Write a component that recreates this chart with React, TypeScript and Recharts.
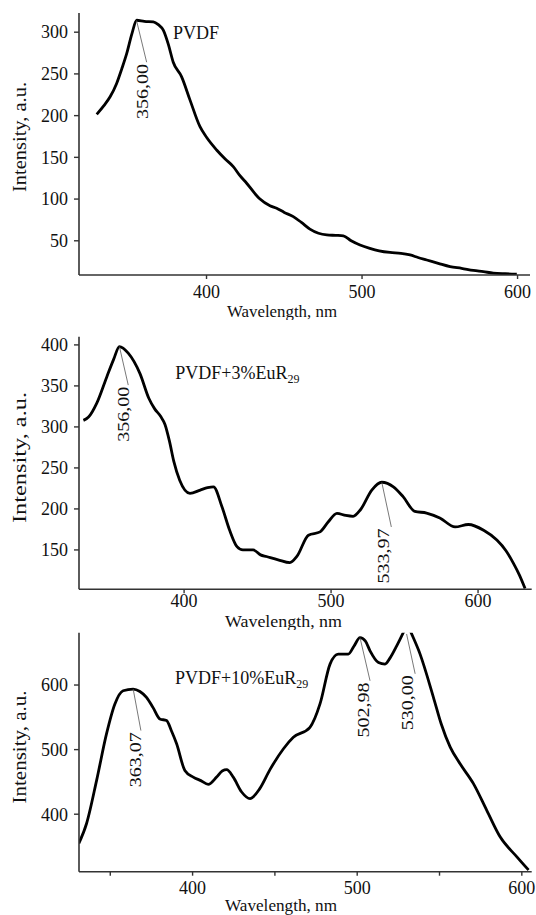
import React from 'react'
import { LineChart, Line, XAxis, YAxis, ReferenceLine, ReferenceDot, Label } from 'recharts'

const SERIF = 'Liberation Serif, serif'
const INK = '#111'
const AXIS = '#333'

// PVDF
const pvdfWavelength = [329.4, 334, 338, 342.2, 345.5, 348.7, 352, 355.1, 360, 365.8, 369, 372.2, 375.5, 378.6, 384, 389.4, 395.8, 400, 406.5, 412, 417.2, 421.5, 425.8, 432.3, 434.4, 440.8, 445.1, 450, 455.8, 461, 466.5, 472, 477.3, 483, 488, 493, 498.7, 505, 511, 518, 525, 530.9, 536, 541.6, 549, 556.6, 564, 571.6, 578, 584.4, 592, 599.5]
const pvdfIntensity = [201.5, 212, 222.6, 238.6, 256, 274.5, 298, 314.3, 313, 312.4, 309, 302.4, 285, 264, 246.5, 218.6, 186.7, 174, 158.8, 148, 138.9, 128, 119, 104, 100, 92, 89, 84, 79, 72, 64, 59, 57, 56.5, 56, 50, 45, 41, 38, 36, 35, 33, 30, 27, 23, 19, 17, 14.5, 13, 11.3, 10.5, 10]

// PVDF+3%EuR29
const eu3Wavelength = [331.5, 335, 340.6, 347.4, 352, 356, 362, 370, 376, 380, 384, 387, 390, 393, 397, 404, 411, 416, 420, 425.7, 431, 436, 440, 447, 452, 456, 464, 472, 476.7, 484.6, 492.5, 498, 504, 510, 515, 520, 527.7, 534.5, 542.4, 549, 557, 565, 574, 584.4, 593.4, 603.8, 612.8, 619, 624, 628, 632]
const eu3Intensity = [308, 312, 329, 361, 382, 398, 390, 365, 335, 322, 313, 303, 283, 258, 235, 219, 223, 226, 227, 203, 174, 154, 150, 150, 144, 142, 138, 134.5, 142, 168, 172, 184, 194.6, 192, 191, 199, 223, 232.5, 227, 215, 197, 195, 189, 178, 181, 174, 162, 149, 134, 120, 103]

// PVDF+10%EuR29
const eu10Wavelength = [330.9, 335.6, 341.7, 347.7, 352.8, 357.8, 363.9, 368, 372, 376, 380.1, 384.2, 387, 390.3, 395.3, 400.4, 405, 409.5, 414.6, 418, 420.7, 424.7, 429.8, 434.9, 440.9, 447, 455.1, 461.2, 471.3, 477.4, 483.5, 488.5, 494.6, 498, 501.7, 505, 507.8, 512.9, 516.9, 520, 524, 528.7, 530.5, 532.1, 538.2, 546.3, 551, 556.5, 562.5, 570.6, 578.7, 586.8, 597, 604.1]
const eu10Intensity = [354.8, 385.6, 452.4, 524.4, 570.7, 591.2, 593.8, 590, 580.9, 565, 547.5, 545, 530, 509, 467.8, 457.5, 452, 446.2, 457.5, 467, 468.9, 457.5, 434.4, 424.2, 440, 469, 501, 519, 534.6, 570.7, 632.4, 647.8, 647.8, 660, 673.4, 668, 652.9, 634.8, 632.4, 642, 660.6, 685, 695, 685, 647.8, 581, 540, 503.8, 478, 447.3, 406, 365, 334, 313.6]

const pvdfYTicks = [50, 100, 150, 200, 250, 300]
const eu3YTicks = [150, 200, 250, 300, 350, 400]
const eu10YTicks = [400, 500, 600]
const xTicks = [400, 500, 600]
const eu10XTicks = [350, 400, 450, 500, 550, 600]

const toRows = (wl: number[], v: number[]) => wl.map((w, i) => ({ wl: w, v: v[i] }))

type Peak = { px: number; py: number; ex: number; ey: number; tx: number; ty: number; text: string }

const panels = [
  {
    data: toRows(pvdfWavelength, pvdfIntensity),
    xDomain: [318, 608], yDomain: [9, 323], xTicks, yTicks: pvdfYTicks,
    title: { x: 378.5, y: 291.6, main: 'PVDF', sub: '' },
    peaks: [
      { px: 355, py: 314, ex: 361.5, ey: 264, tx: 358.8, ty: 262, text: '356,00' },
    ] as Peak[],
    top: 0, height: 320, margin: { top: 13, right: 6, bottom: 5, left: 0 }, xTickMargin: 6,
    yLabel: { cy: 137, len: 110 }, xLabel: { cx: 282, cy: 311, len: 110 },
  },
  {
    data: toRows(eu3Wavelength, eu3Intensity),
    xDomain: [328.5, 636.5], yDomain: [102, 410], xTicks, yTicks: eu3YTicks,
    title: { x: 394, y: 358.5, main: 'PVDF+3%EuR', sub: '29' },
    peaks: [
      { px: 356, py: 398, ex: 362, ey: 351, tx: 358.5, ty: 349, text: '356,00' },
      { px: 534.5, py: 232.5, ex: 541, ey: 178, tx: 535.4, ty: 176, text: '533,97' },
    ] as Peak[],
    top: 320, height: 310, margin: { top: 16.7, right: 4.3, bottom: 0.7, left: 0 }, xTickMargin: 1,
    yLabel: { cy: 137.5, len: 131 }, xLabel: { cx: 283.5, cy: 301.5, len: 117 },
  },
  {
    data: toRows(eu10Wavelength, eu10Intensity),
    xDomain: [331, 606], yDomain: [311, 681], xTicks: eu10XTicks, yTicks: eu10YTicks,
    title: { x: 389.3, y: 602, main: 'PVDF+10%EuR', sub: '29' },
    peaks: [
      { px: 363.9, py: 593.8, ex: 368.6, ey: 529.5, tx: 365, ty: 527, text: '363,07' },
      { px: 501.7, py: 673.4, ex: 507.8, ey: 606.6, tx: 503.5, ty: 604, text: '502,98' },
      { px: 530, py: 679, ex: 535.2, ey: 617.4, tx: 530.1, ty: 615, text: '530,00' },
    ] as Peak[],
    top: 620, height: 295, margin: { top: 12.7, right: 4.3, bottom: 3.3, left: 0 }, xTickMargin: 6,
    yLabel: { cy: 127, len: 113 }, xLabel: { cx: 281, cy: 285, len: 112 },
  },
]

const textStyle = { fontFamily: SERIF }

function XTick(props: any) {
  const { x, y, payload } = props
  if (payload.value % 100 !== 0) return null
  return (
    <text x={x} y={y} dy="0.71em" textAnchor="middle" fontSize={18} style={textStyle} fill={INK}>
      {payload.value}
    </text>
  )
}

function YTick(props: any) {
  const { x, y, payload } = props
  return (
    <text x={x} y={y} dy="0.35em" textAnchor="end" fontSize={18} style={textStyle} fill={INK}>
      {payload.value}
    </text>
  )
}

function Panel({ p }: { p: (typeof panels)[number] }) {
  return (
    <div style={{ position: 'absolute', left: 0, top: p.top }}>
      <LineChart width={536} height={p.height} data={p.data} margin={p.margin}>
        <XAxis
          type="number"
          dataKey="wl"
          domain={p.xDomain}
          ticks={p.xTicks}
          allowDataOverflow
          height={40}
          tickSize={4}
          tickMargin={p.xTickMargin}
          axisLine={{ stroke: AXIS, strokeWidth: 1.6 }}
          tickLine={{ stroke: AXIS, strokeWidth: 1.4 }}
          tick={(t: any) => <XTick {...t} />}
        >
          <Label
            content={() => (
              <text x={p.xLabel.cx} y={p.xLabel.cy} dy="0.35em" textAnchor="middle" fontSize={17}
                style={textStyle} fill={INK} textLength={p.xLabel.len} lengthAdjust="spacingAndGlyphs">
                Wavelength, nm
              </text>
            )}
          />
        </XAxis>
        <YAxis
          type="number"
          domain={p.yDomain}
          ticks={p.yTicks}
          allowDataOverflow
          width={79}
          tickSize={5}
          tickMargin={6}
          axisLine={{ stroke: AXIS, strokeWidth: 1.6 }}
          tickLine={{ stroke: AXIS, strokeWidth: 1.4 }}
          tick={(t: any) => <YTick {...t} />}
        >
          <Label
            content={() => (
              <text x={20} y={p.yLabel.cy} dy="0.35em" textAnchor="middle" fontSize={18}
                style={textStyle} fill={INK} textLength={p.yLabel.len} lengthAdjust="spacingAndGlyphs"
                transform={`rotate(-90 20 ${p.yLabel.cy})`}>
                Intensity, a.u.
              </text>
            )}
          />
        </YAxis>
        <Line
          type="monotone"
          dataKey="v"
          stroke="#000"
          strokeWidth={2.8}
          dot={false}
          isAnimationActive={false}
        />
        {p.peaks.map((k) => (
          <ReferenceLine
            key={'l' + k.text}
            segment={[{ x: k.px, y: k.py }, { x: k.ex, y: k.ey }]}
            stroke="#555"
            strokeWidth={0.8}
          />
        ))}
        {p.peaks.map((k) => (
          <ReferenceDot
            key={'t' + k.text}
            x={k.tx}
            y={k.ty}
            r={0}
            shape={(s: any) => (
              <text x={s.cx} y={s.cy} dy="0.35em" textAnchor="end" fontSize={17} style={textStyle}
                fill={INK} textLength={55} lengthAdjust="spacingAndGlyphs"
                transform={`rotate(-90 ${s.cx} ${s.cy})`}>
                {k.text}
              </text>
            )}
          />
        ))}
        <ReferenceDot
          x={p.title.x}
          y={p.title.y}
          r={0}
          shape={(s: any) => (
            <text x={s.cx} y={s.cy} fontSize={18} style={textStyle} fill={INK}>
              {p.title.main}
              {p.title.sub && <tspan fontSize={12} dy={4}>{p.title.sub}</tspan>}
            </text>
          )}
        />
      </LineChart>
    </div>
  )
}

export default function App() {
  return (
    <div style={{ position: 'absolute', left: 0, top: 0, width: 536, height: 915, background: '#fff' }}>
      {panels.map((p, i) => (
        <Panel key={i} p={p} />
      ))}
    </div>
  )
}
